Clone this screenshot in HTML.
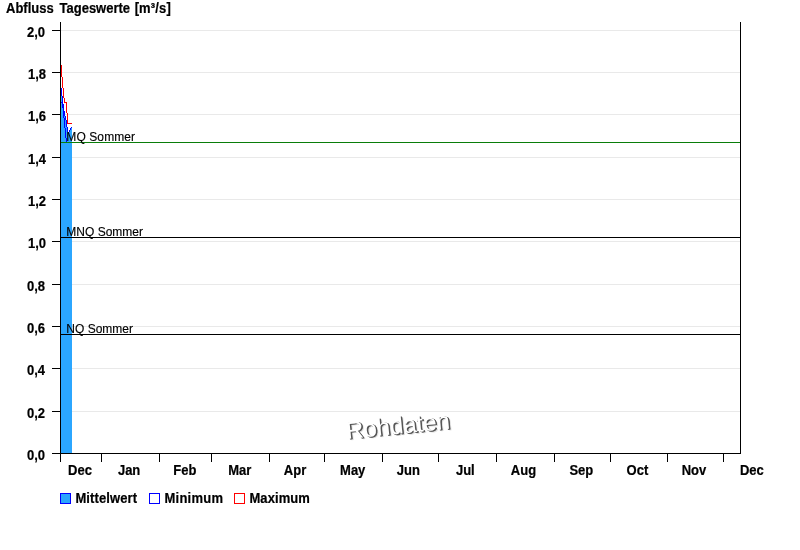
<!DOCTYPE html>
<html lang="de"><head><meta charset="utf-8"><title>Abfluss Tageswerte</title>
<style>
html,body{margin:0;padding:0;background:#fff;}
body{width:800px;height:550px;overflow:hidden;font-family:"Liberation Sans",Arial,sans-serif;}
svg{display:block;}
.b{font-family:"Liberation Sans",Arial,sans-serif;font-weight:bold;font-size:13px;fill:#000;stroke:#000;stroke-width:0.2px;}
.r{font-family:"Liberation Sans",Arial,sans-serif;font-weight:normal;font-size:12px;fill:#000;stroke:#000;stroke-width:0.15px;}
.wm{font-family:"Liberation Sans",Arial,sans-serif;font-weight:normal;font-size:24px;}
</style></head><body>
<svg width="800" height="550" viewBox="0 0 800 550">
<rect x="0" y="0" width="800" height="550" fill="#ffffff"/>

<g shape-rendering="crispEdges">
<rect x="61" y="411" width="679" height="1" fill="#e9e9e9"/>
<rect x="61" y="368" width="679" height="1" fill="#e9e9e9"/>
<rect x="61" y="326" width="679" height="1" fill="#e9e9e9"/>
<rect x="61" y="284" width="679" height="1" fill="#e9e9e9"/>
<rect x="61" y="241" width="679" height="1" fill="#e9e9e9"/>
<rect x="61" y="199" width="679" height="1" fill="#e9e9e9"/>
<rect x="61" y="157" width="679" height="1" fill="#e9e9e9"/>
<rect x="61" y="114" width="679" height="1" fill="#e9e9e9"/>
<rect x="61" y="72" width="679" height="1" fill="#e9e9e9"/>
<rect x="61" y="30" width="679" height="1" fill="#e9e9e9"/>
</g>
<g shape-rendering="crispEdges">
<rect x="61" y="96" width="1" height="357" fill="#2ba6ff"/>
<rect x="62" y="104" width="1" height="349" fill="#2ba6ff"/>
<rect x="63" y="111" width="1" height="342" fill="#2ba6ff"/>
<rect x="64" y="116" width="1" height="337" fill="#2ba6ff"/>
<rect x="65" y="120" width="1" height="333" fill="#2ba6ff"/>
<rect x="66" y="127" width="1" height="326" fill="#2ba6ff"/>
<rect x="67" y="132" width="1" height="321" fill="#2ba6ff"/>
<rect x="68" y="134" width="1" height="319" fill="#2ba6ff"/>
<rect x="69" y="132" width="1" height="321" fill="#2ba6ff"/>
<rect x="70" y="130" width="1" height="323" fill="#2ba6ff"/>
<rect x="71" y="128" width="1" height="325" fill="#2ba6ff"/>
<rect x="61" y="88" width="1" height="8" fill="#0000ff"/>
<rect x="62" y="96" width="1" height="8" fill="#0000ff"/>
<rect x="63" y="104" width="1" height="7" fill="#0000ff"/>
<rect x="64" y="111" width="1" height="5" fill="#0000ff"/>
<rect x="65" y="116" width="1" height="4" fill="#0000ff"/>
<rect x="66" y="120" width="1" height="7" fill="#0000ff"/>
<rect x="67" y="127" width="1" height="5" fill="#0000ff"/>
<rect x="68" y="132" width="1" height="2" fill="#0000ff"/>
<rect x="69" y="130" width="1" height="2" fill="#0000ff"/>
<rect x="70" y="128" width="1" height="2" fill="#0000ff"/>
<rect x="71" y="127" width="1" height="1" fill="#0000ff"/>
<rect x="61" y="102" width="1" height="1" fill="#0000ff"/>
<rect x="62" y="102" width="1" height="6" fill="#0000ff"/>
<rect x="63" y="108" width="1" height="10" fill="#0000ff"/>
<rect x="64" y="118" width="1" height="10" fill="#0000ff"/>
<rect x="65" y="128" width="1" height="10" fill="#0000ff"/>
<rect x="66" y="138" width="1" height="4" fill="#0000ff"/>
<rect x="61" y="65" width="1" height="12" fill="#ff0000"/>
<rect x="62" y="77" width="1" height="11" fill="#ff0000"/>
<rect x="63" y="88" width="1" height="10" fill="#ff0000"/>
<rect x="64" y="98" width="1" height="5" fill="#ff0000"/>
<rect x="65" y="102" width="1" height="1" fill="#ff0000"/>
<rect x="66" y="102" width="1" height="11" fill="#ff0000"/>
<rect x="67" y="113" width="1" height="11" fill="#ff0000"/>
<rect x="68" y="123" width="1" height="1" fill="#ff0000"/>
<rect x="69" y="123" width="1" height="1" fill="#ff0000"/>
<rect x="70" y="123" width="1" height="1" fill="#ff0000"/>
<rect x="71" y="123" width="1" height="1" fill="#ff0000"/>
</g>
<text class="wm" transform="translate(348.2,439.6) rotate(-5.7)" x="-1.2" y="-0.8" fill="#ffffff" style="text-shadow:1.2px 0.8px 0 #555,1.4px 1.0px 0 #555,1.0px 0.6px 0 #555,2.3px 1.9px 0 #e0e0e0">Rohdaten</text>
<g shape-rendering="crispEdges">
<rect x="61" y="142" width="679" height="1" fill="#0a7d0a"/>
<rect x="61" y="237" width="679" height="1" fill="#000"/>
<rect x="61" y="334" width="679" height="1" fill="#000"/>
<rect x="60" y="22" width="1" height="432" fill="#000"/>
<rect x="740" y="22" width="1" height="432" fill="#000"/>
<rect x="60" y="453" width="681" height="1" fill="#000"/>
<rect x="52" y="453" width="8" height="1" fill="#000"/>
<rect x="52" y="411" width="8" height="1" fill="#000"/>
<rect x="52" y="368" width="8" height="1" fill="#000"/>
<rect x="52" y="326" width="8" height="1" fill="#000"/>
<rect x="52" y="284" width="8" height="1" fill="#000"/>
<rect x="52" y="241" width="8" height="1" fill="#000"/>
<rect x="52" y="199" width="8" height="1" fill="#000"/>
<rect x="52" y="157" width="8" height="1" fill="#000"/>
<rect x="52" y="114" width="8" height="1" fill="#000"/>
<rect x="52" y="72" width="8" height="1" fill="#000"/>
<rect x="52" y="30" width="8" height="1" fill="#000"/>
<rect x="60" y="453" width="1" height="9" fill="#000"/>
<rect x="101" y="453" width="1" height="9" fill="#000"/>
<rect x="159" y="453" width="1" height="9" fill="#000"/>
<rect x="211" y="453" width="1" height="9" fill="#000"/>
<rect x="269" y="453" width="1" height="9" fill="#000"/>
<rect x="324" y="453" width="1" height="9" fill="#000"/>
<rect x="382" y="453" width="1" height="9" fill="#000"/>
<rect x="438" y="453" width="1" height="9" fill="#000"/>
<rect x="496" y="453" width="1" height="9" fill="#000"/>
<rect x="554" y="453" width="1" height="9" fill="#000"/>
<rect x="610" y="453" width="1" height="9" fill="#000"/>
<rect x="667" y="453" width="1" height="9" fill="#000"/>
<rect x="723" y="453" width="1" height="9" fill="#000"/>
</g>
<text class="b" transform="translate(45.00,459.60) scale(1,1.08)" text-anchor="end">0,0</text>
<text class="b" transform="translate(45.00,417.60) scale(1,1.08)" text-anchor="end">0,2</text>
<text class="b" transform="translate(45.00,374.60) scale(1,1.08)" text-anchor="end">0,4</text>
<text class="b" transform="translate(45.00,332.60) scale(1,1.08)" text-anchor="end">0,6</text>
<text class="b" transform="translate(45.00,290.60) scale(1,1.08)" text-anchor="end">0,8</text>
<text class="b" transform="translate(46.00,247.60) scale(1,1.08)" text-anchor="end">1,0</text>
<text class="b" transform="translate(46.00,205.60) scale(1,1.08)" text-anchor="end">1,2</text>
<text class="b" transform="translate(46.00,163.60) scale(1,1.08)" text-anchor="end">1,4</text>
<text class="b" transform="translate(46.00,120.60) scale(1,1.08)" text-anchor="end">1,6</text>
<text class="b" transform="translate(46.00,78.60) scale(1,1.08)" text-anchor="end">1,8</text>
<text class="b" transform="translate(45.00,36.60) scale(1,1.08)" text-anchor="end">2,0</text>
<text class="b" transform="translate(80.00,475.00) scale(1,1.08)" text-anchor="middle">Dec</text>
<text class="b" transform="translate(129.10,475.00) scale(1,1.08)" text-anchor="middle">Jan</text>
<text class="b" transform="translate(184.80,475.00) scale(1,1.08)" text-anchor="middle">Feb</text>
<text class="b" transform="translate(239.80,475.00) scale(1,1.08)" text-anchor="middle">Mar</text>
<text class="b" transform="translate(295.00,475.00) scale(1,1.08)" text-anchor="middle">Apr</text>
<text class="b" transform="translate(352.70,475.00) scale(1,1.08)" text-anchor="middle">May</text>
<text class="b" transform="translate(408.30,475.00) scale(1,1.08)" text-anchor="middle">Jun</text>
<text class="b" transform="translate(465.30,475.00) scale(1,1.08)" text-anchor="middle">Jul</text>
<text class="b" transform="translate(523.50,475.00) scale(1,1.08)" text-anchor="middle">Aug</text>
<text class="b" transform="translate(581.30,475.00) scale(1,1.08)" text-anchor="middle">Sep</text>
<text class="b" transform="translate(637.40,475.00) scale(1,1.08)" text-anchor="middle">Oct</text>
<text class="b" transform="translate(693.90,475.00) scale(1,1.08)" text-anchor="middle">Nov</text>
<text class="b" transform="translate(751.80,475.00) scale(1,1.08)" text-anchor="middle">Dec</text>
<text class="r" transform="translate(66.30,141.00) scale(1,1.0)" letter-spacing="0.1">MQ Sommer</text>
<text class="r" transform="translate(66.30,236.00) scale(1,1.0)">MNQ Sommer</text>
<text class="r" transform="translate(66.30,333.00) scale(1,1.0)">NQ Sommer</text>
<text class="b" transform="translate(6.00,12.90) scale(1,1.08)">Abfluss <tspan dx="2.3">Tageswerte</tspan> <tspan dx="1.0" letter-spacing="0.15">[m³/s]</tspan></text>
<g shape-rendering="crispEdges">
<rect x="60.5" y="493.5" width="10" height="10" fill="#2ba5fd" stroke="#0000ff" stroke-width="1"/>
<rect x="149.5" y="493.5" width="10" height="10" fill="#fff" stroke="#0000ff" stroke-width="1"/>
<rect x="234.5" y="493.5" width="10" height="10" fill="#fff" stroke="#ff0000" stroke-width="1"/>
</g>
<text class="b" transform="translate(75.40,502.70) scale(1,1.08)" letter-spacing="0.12">Mittelwert</text>
<text class="b" transform="translate(164.40,502.70) scale(1,1.08)" letter-spacing="0.28">Minimum</text>
<text class="b" transform="translate(249.40,502.70) scale(1,1.08)" letter-spacing="0.1">Maximum</text>
</svg></body></html>
